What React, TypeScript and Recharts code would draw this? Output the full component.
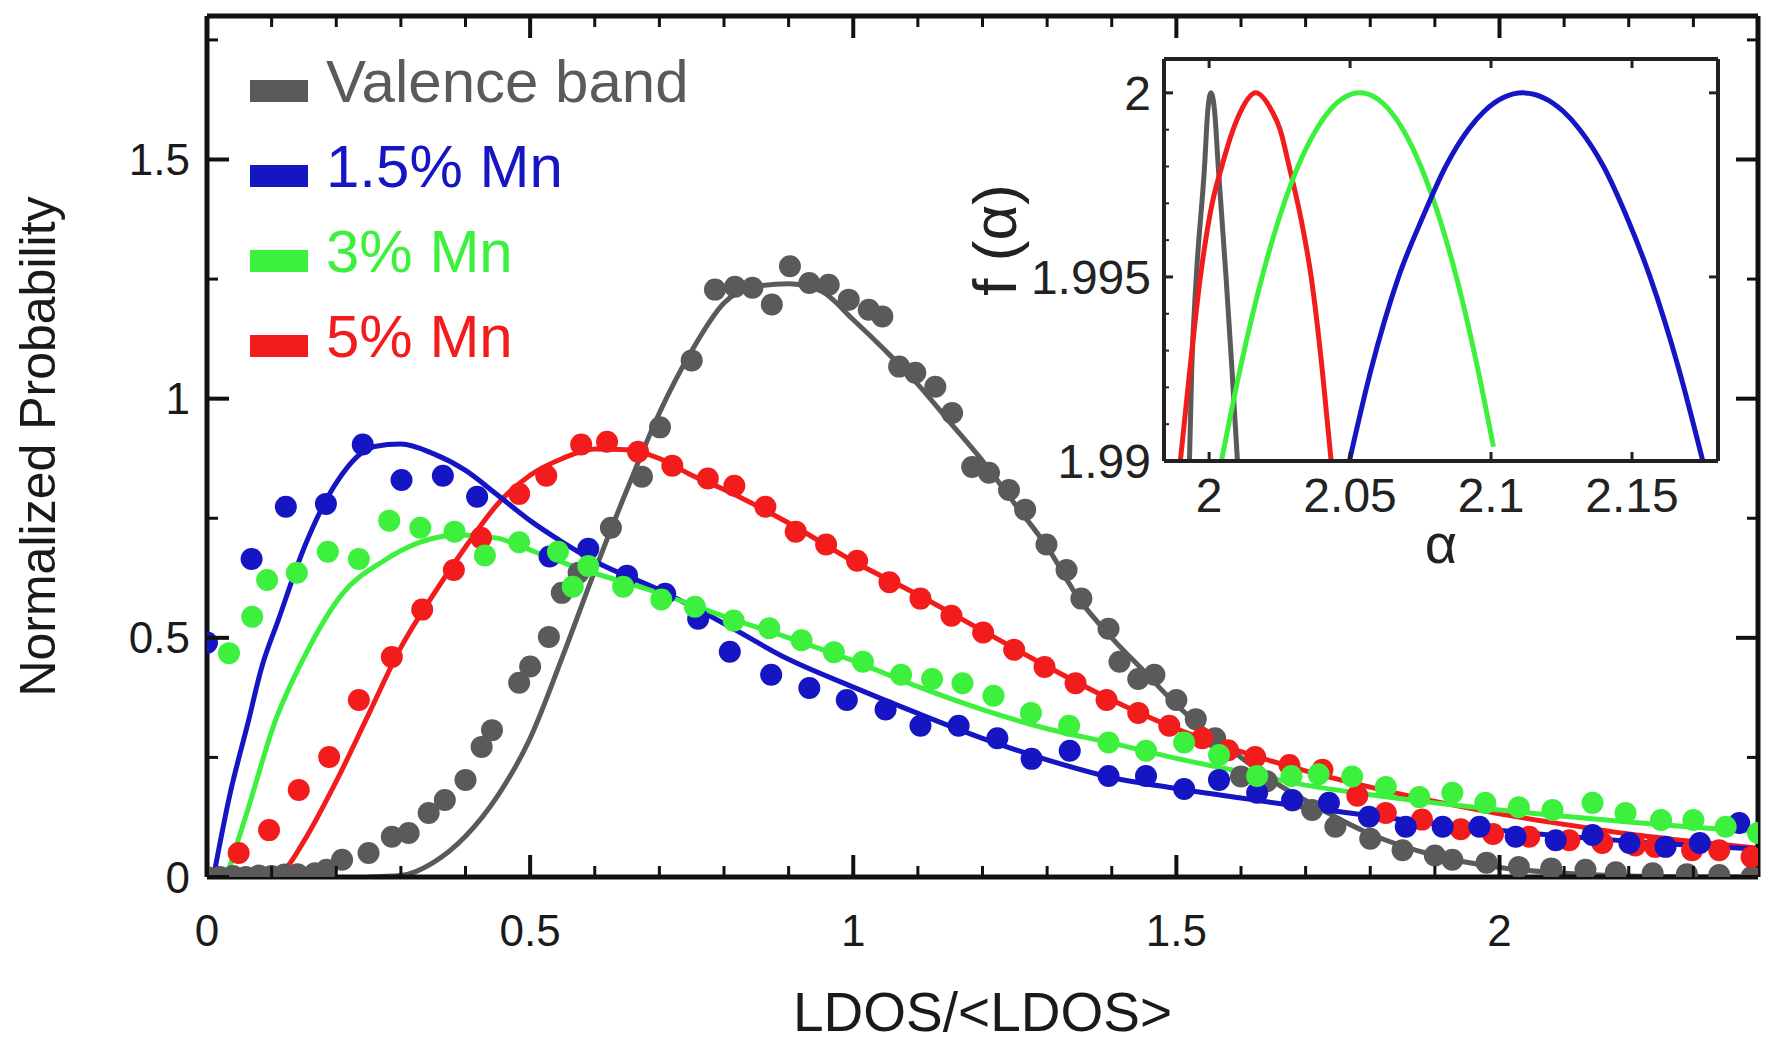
import { ComposedChart, LineChart, Line, Scatter, XAxis, YAxis, Label } from "recharts";

const FONT = "'Liberation Sans', Arial, Helvetica, sans-serif";

const GRAY = "#5a5a5a";
const BLUE = "#1515c4";
const GREEN = "#3ef03e";
const RED = "#f31c1c";
const AXIS = "#111";
const INK = "#1a1a1a";

// main plot ticks
const xMajorTicks = [0, 0.5, 1, 1.5, 2];
const xMinorTicks = [0.1, 0.2, 0.3, 0.4, 0.6, 0.7, 0.8, 0.9, 1.1, 1.2, 1.3, 1.4, 1.6, 1.7, 1.8, 1.9, 2.1, 2.2, 2.3];
const yMajorTicks = [0, 0.5, 1, 1.5];
const yMinorTicks = [0.25, 0.75, 1.25, 1.75];

// inset ticks
const alphaTicks = [2, 2.05, 2.1, 2.15];
const fTicks = [1.99, 1.995, 2];
const fMinorTicks = [1.991, 1.992, 1.993, 1.994, 1.996, 1.997, 1.998, 1.999];

// Valence band: histogram points and fit
const valenceDots = [
  [0, 0], [0.02, 0], [0.04, 0.002], [0.06, 0], [0.08, 0.003], [0.1, 0.002], [0.12, 0.005], [0.14, 0.006],
  [0.167, 0.008], [0.185, 0.015], [0.209, 0.036], [0.25, 0.05], [0.286, 0.084], [0.312, 0.092], [0.343, 0.134],
  [0.368, 0.161], [0.4, 0.203], [0.425, 0.272], [0.441, 0.307], [0.483, 0.406], [0.5, 0.44], [0.529, 0.502],
  [0.549, 0.594], [0.575, 0.636], [0.625, 0.73], [0.673, 0.837], [0.701, 0.94], [0.75, 1.08], [0.786, 1.228],
  [0.817, 1.234], [0.844, 1.232], [0.874, 1.197], [0.902, 1.277], [0.932, 1.242], [0.962, 1.238], [0.993, 1.207],
  [1.024, 1.186], [1.045, 1.172], [1.071, 1.067], [1.096, 1.054], [1.127, 1.025], [1.153, 0.97], [1.184, 0.857],
  [1.21, 0.845], [1.241, 0.809], [1.266, 0.768], [1.299, 0.695], [1.33, 0.642], [1.353, 0.582], [1.395, 0.519],
  [1.412, 0.45], [1.441, 0.414], [1.466, 0.423], [1.5, 0.37], [1.53, 0.33], [1.56, 0.29], [1.6, 0.21], [1.64, 0.2],
  [1.68, 0.16], [1.71, 0.14], [1.746, 0.105], [1.8, 0.08], [1.85, 0.056], [1.9, 0.045], [1.927, 0.036], [1.98, 0.03],
  [2.03, 0.021], [2.08, 0.018], [2.133, 0.015], [2.18, 0.01], [2.237, 0.008], [2.29, 0.006], [2.34, 0.004], [2.39, 0],
];
const valenceFit = [
  [0.25, 0], [0.3, 0.003], [0.35, 0.03], [0.4, 0.085], [0.45, 0.17], [0.5, 0.29], [0.55, 0.46], [0.6, 0.64],
  [0.65, 0.81], [0.7, 0.97], [0.75, 1.1], [0.8, 1.2], [0.85, 1.235], [0.9, 1.24], [0.95, 1.225], [1.0, 1.165],
  [1.05, 1.1], [1.1, 1.03], [1.15, 0.95], [1.2, 0.87], [1.25, 0.78], [1.3, 0.69], [1.35, 0.58], [1.4, 0.5],
  [1.45, 0.43], [1.5, 0.36], [1.55, 0.3], [1.6, 0.25], [1.65, 0.2], [1.7, 0.16], [1.8, 0.09], [1.9, 0.045],
  [2.0, 0.02], [2.1, 0.008], [2.2, 0.002], [2.3, 0], [2.4, 0],
];

// 1.5% Mn
const mn15Dots = [
  [0, 0.49], [0.069, 0.665], [0.122, 0.774], [0.184, 0.78], [0.241, 0.904], [0.301, 0.83], [0.365, 0.839],
  [0.418, 0.795], [0.53, 0.67], [0.59, 0.686], [0.65, 0.63], [0.709, 0.592], [0.76, 0.54], [0.809, 0.471],
  [0.873, 0.423], [0.932, 0.395], [0.99, 0.37], [1.05, 0.35], [1.104, 0.316], [1.163, 0.316], [1.223, 0.29],
  [1.276, 0.247], [1.335, 0.264], [1.395, 0.211], [1.453, 0.211], [1.512, 0.184], [1.566, 0.203], [1.625, 0.176],
  [1.679, 0.161], [1.736, 0.155], [1.798, 0.126], [1.855, 0.105], [1.912, 0.105], [1.969, 0.105], [2.025, 0.084],
  [2.087, 0.077], [2.144, 0.088], [2.201, 0.071], [2.257, 0.063], [2.31, 0.071], [2.371, 0.113],
];
const mn15Fit = [
  [0.01, 0], [0.035, 0.17], [0.063, 0.32], [0.085, 0.44], [0.11, 0.536], [0.152, 0.694], [0.2, 0.824],
  [0.259, 0.9], [0.3, 0.905], [0.35, 0.885], [0.4, 0.85], [0.45, 0.798], [0.5, 0.745], [0.55, 0.7], [0.6, 0.66],
  [0.7, 0.6], [0.8, 0.53], [0.9, 0.455], [1.0, 0.397], [1.1, 0.342], [1.2, 0.29], [1.3, 0.245], [1.4, 0.208],
  [1.5, 0.185], [1.6, 0.165], [1.7, 0.146], [1.8, 0.128], [1.9, 0.112], [2.0, 0.098], [2.1, 0.085], [2.2, 0.075],
  [2.3, 0.066], [2.4, 0.058],
];

// 3% Mn
const mn3Dots = [
  [0.034, 0.468], [0.07, 0.544], [0.093, 0.621], [0.139, 0.636], [0.187, 0.68], [0.235, 0.665], [0.282, 0.745],
  [0.33, 0.73], [0.383, 0.722], [0.43, 0.672], [0.483, 0.7], [0.543, 0.68], [0.566, 0.607], [0.59, 0.65],
  [0.644, 0.607], [0.703, 0.58], [0.755, 0.565], [0.815, 0.536], [0.87, 0.52], [0.92, 0.495], [0.97, 0.47],
  [1.015, 0.45], [1.074, 0.423], [1.122, 0.414], [1.169, 0.405], [1.217, 0.379], [1.275, 0.343], [1.334, 0.316],
  [1.395, 0.281], [1.453, 0.264], [1.512, 0.281], [1.566, 0.255], [1.625, 0.211], [1.678, 0.211], [1.72, 0.215],
  [1.772, 0.21], [1.824, 0.188], [1.876, 0.167], [1.927, 0.176], [1.978, 0.155], [2.03, 0.146], [2.082, 0.14],
  [2.144, 0.155], [2.195, 0.134], [2.25, 0.119], [2.3, 0.119], [2.35, 0.105], [2.4, 0.092],
];
const mn3Fit = [
  [0.03, 0], [0.063, 0.14], [0.104, 0.32], [0.152, 0.464], [0.21, 0.593], [0.27, 0.658], [0.33, 0.7],
  [0.389, 0.715], [0.447, 0.709], [0.507, 0.68], [0.566, 0.65], [0.685, 0.6], [0.8, 0.545], [0.9, 0.5],
  [1.0, 0.452], [1.1, 0.398], [1.2, 0.35], [1.3, 0.31], [1.4, 0.28], [1.5, 0.248], [1.6, 0.22], [1.7, 0.192],
  [1.8, 0.172], [1.9, 0.155], [2.0, 0.14], [2.1, 0.127], [2.2, 0.115], [2.3, 0.104], [2.4, 0.095],
];

// 5% Mn
const mn5Dots = [
  [0.049, 0.05], [0.096, 0.098], [0.142, 0.182], [0.189, 0.251], [0.235, 0.37], [0.286, 0.46], [0.333, 0.559],
  [0.382, 0.642], [0.424, 0.709], [0.483, 0.801], [0.525, 0.839], [0.579, 0.904], [0.619, 0.91], [0.667, 0.889],
  [0.72, 0.86], [0.775, 0.833], [0.816, 0.818], [0.864, 0.774], [0.911, 0.722], [0.958, 0.695], [1.006, 0.661],
  [1.056, 0.616], [1.104, 0.582], [1.152, 0.546], [1.201, 0.511], [1.249, 0.475], [1.296, 0.439], [1.344, 0.405],
  [1.392, 0.37], [1.441, 0.343], [1.489, 0.316], [1.54, 0.29], [1.58, 0.265], [1.622, 0.251], [1.675, 0.234],
  [1.726, 0.224], [1.78, 0.17], [1.824, 0.134], [1.88, 0.12], [1.94, 0.1], [1.99, 0.09], [2.046, 0.084],
  [2.108, 0.077], [2.159, 0.071], [2.21, 0.066], [2.241, 0.063], [2.298, 0.056], [2.34, 0.056], [2.39, 0.042],
];
const mn5Fit = [
  [0.1, 0], [0.12, 0.015], [0.15, 0.075], [0.2, 0.2], [0.25, 0.34], [0.3, 0.48], [0.35, 0.59], [0.4, 0.69],
  [0.45, 0.78], [0.5, 0.84], [0.55, 0.875], [0.6, 0.895], [0.65, 0.893], [0.7, 0.875], [0.75, 0.84], [0.8, 0.81],
  [0.9, 0.74], [1.0, 0.66], [1.1, 0.59], [1.2, 0.515], [1.3, 0.44], [1.4, 0.37], [1.5, 0.31], [1.6, 0.262],
  [1.7, 0.222], [1.8, 0.188], [1.9, 0.158], [2.0, 0.132], [2.1, 0.11], [2.2, 0.09], [2.3, 0.074], [2.4, 0.06],
];

// inset f(alpha) spectra, [alpha, f]
const valenceSpectrum = [
  [1.99303, 1.99], [1.99384, 1.9925], [1.99546, 1.995], [1.99838, 1.998], [1.99951, 1.9995], [2.00065, 2.0],
  [2.00195, 1.9995], [2.00324, 1.998], [2.006, 1.995], [2.0081, 1.9925], [2.01005, 1.99],
];
const mn5Spectrum = [
  [1.98979, 1.99], [1.9932, 1.9925], [1.9969, 1.995], [2.0011, 1.997], [2.0045, 1.998], [2.0085, 1.999],
  [2.0112, 1.9995], [2.01654, 2.0], [2.0223, 1.9995], [2.0252, 1.999], [2.0284, 1.998], [2.0328, 1.9965],
  [2.0362, 1.995], [2.0401, 1.9925], [2.04329, 1.99],
];
const mn3Spectrum = [
  [2.00438, 1.99], [2.011, 1.9925], [2.0188, 1.995], [2.0266, 1.997], [2.0315, 1.998], [2.038, 1.999],
  [2.0425, 1.9995], [2.0535, 2.0], [2.0643, 1.9995], [2.0688, 1.999], [2.0751, 1.998], [2.0821, 1.9965],
  [2.0877, 1.995], [2.0953, 1.9925], [2.10084, 1.99039],
];
const mn15Spectrum = [
  [2.04977, 1.99], [2.0575, 1.9925], [2.0672, 1.995], [2.0762, 1.9967], [2.0839, 1.998], [2.0919, 1.999],
  [2.0976, 1.9995], [2.11139, 2.0], [2.1256, 1.9995], [2.1315, 1.999], [2.1399, 1.998], [2.1483, 1.9966],
  [2.1564, 1.995], [2.1666, 1.9925], [2.1751, 1.99],
];

const toPts = (arr: number[][]) => arr.map(([x, y]) => ({ x, y }));

const series = [
  { name: "Valence band", color: GRAY, dots: valenceDots, fit: valenceFit, spectrum: valenceSpectrum },
  { name: "1.5% Mn", color: BLUE, dots: mn15Dots, fit: mn15Fit, spectrum: mn15Spectrum },
  { name: "3% Mn", color: GREEN, dots: mn3Dots, fit: mn3Fit, spectrum: mn3Spectrum },
  { name: "5% Mn", color: RED, dots: mn5Dots, fit: mn5Fit, spectrum: mn5Spectrum },
];
// drawing order in the picture: gray at the back, green on top
const drawOrder = [0, 3, 1, 2];
const insetOrder = [0, 3, 2, 1];

// plot boxes (set through the chart margins below)
const MAIN = { width: 1767, height: 1046, top: 16, left: 207, right: 1758, bottom: 877 };
const INSET = { left: 960, top: 30, width: 800, height: 560, pTop: 29, pLeft: 204, pRight: 758, pBottom: 431 };

const dotShape = (color: string) => (props: any) => (
  <circle cx={props.cx} cy={props.cy} r={11} fill={color} />
);

// ticks point inward and repeat on the opposite side of the frame
const MainXTick = (props: any) => {
  const { x, y, payload } = props;
  const major = xMajorTicks.includes(payload.value);
  const len = major ? 22 : 11;
  const sw = major ? 4 : 3;
  return (
    <g>
      <line x1={x} x2={x} y1={y} y2={y - len} stroke={AXIS} strokeWidth={sw} />
      <line x1={x} x2={x} y1={MAIN.top} y2={MAIN.top + len} stroke={AXIS} strokeWidth={sw} />
      {major && (
        <text x={x} y={y + 38} dy="0.71em" textAnchor="middle" fontSize={44} fill={INK} fontFamily={FONT}>
          {payload.value}
        </text>
      )}
    </g>
  );
};

const MainYTick = (props: any) => {
  const { x, y, payload } = props;
  const major = yMajorTicks.includes(payload.value);
  const len = major ? 22 : 11;
  const sw = major ? 4 : 3;
  return (
    <g>
      <line x1={x} x2={x + len} y1={y} y2={y} stroke={AXIS} strokeWidth={sw} />
      <line x1={MAIN.right} x2={MAIN.right - len} y1={y} y2={y} stroke={AXIS} strokeWidth={sw} />
      {major && (
        <text x={x - 17} y={y} dy="0.355em" textAnchor="end" fontSize={44} fill={INK} fontFamily={FONT}>
          {payload.value}
        </text>
      )}
    </g>
  );
};

const InsetXTick = (props: any) => {
  const { x, y, payload } = props;
  return (
    <g>
      <line x1={x} x2={x} y1={y} y2={y - 9} stroke="#222" strokeWidth={3} />
      <line x1={x} x2={x} y1={INSET.pTop} y2={INSET.pTop + 9} stroke="#222" strokeWidth={3} />
      <text x={x} y={y + 17} dy="0.71em" textAnchor="middle" fontSize={48} fill="#222" fontFamily={FONT}>
        {payload.value}
      </text>
    </g>
  );
};

const InsetYTick = (props: any) => {
  const { x, y, payload } = props;
  const major = fTicks.includes(payload.value);
  return (
    <g>
      <line x1={x} x2={x + (major ? 9 : 5)} y1={y} y2={y} stroke="#222" strokeWidth={major ? 3 : 2} />
      {major && <line x1={INSET.pRight} x2={INSET.pRight - 9} y1={y} y2={y} stroke="#222" strokeWidth={3} />}
      {major && (
        <text x={x - 13} y={y} dy="0.355em" textAnchor="end" fontSize={48} fill="#222" fontFamily={FONT}>
          {payload.value}
        </text>
      )}
    </g>
  );
};

const InsetYLabel = (props: any) => {
  const vb = props.viewBox || {};
  const cx = vb.x - 168;
  const cy = vb.y + vb.height * 0.45;
  return (
    <text
      x={cx}
      y={cy}
      transform={`rotate(-90 ${cx} ${cy})`}
      textAnchor="middle"
      dominantBaseline="central"
      fontSize={62}
      fontFamily={FONT}
      fill="#222"
    >
      f (α)
    </text>
  );
};

const Legend = () => (
  <div style={{ position: "absolute", left: 250, top: 39, fontFamily: FONT }}>
    {series.map((s) => (
      <div key={s.name} style={{ position: "relative", height: 85, width: 460 }}>
        <div style={{ position: "absolute", left: 0, top: 41, width: 58, height: 22, background: s.color }} />
        <span style={{ position: "absolute", left: 76, top: 0, lineHeight: "85px", fontSize: 60, color: s.color, whiteSpace: "nowrap" }}>
          {s.name}
        </span>
      </div>
    ))}
  </div>
);

const frame = { stroke: AXIS, strokeWidth: 5 };
const insetFrame = { stroke: "#222", strokeWidth: 4 };

const Inset = () => (
  <div style={{ position: "absolute", left: INSET.left, top: INSET.top }}>
    <LineChart
      width={INSET.width}
      height={INSET.height}
      margin={{
        top: INSET.pTop - 1,
        left: INSET.pLeft - 1,
        right: INSET.width - INSET.pRight - 1,
        bottom: INSET.height - INSET.pBottom - 1,
      }}
    >
      <XAxis
        xAxisId="ib"
        type="number"
        dataKey="x"
        domain={[1.984, 2.1805]}
        allowDataOverflow
        ticks={alphaTicks}
        interval={0}
        height={1}
        tickSize={0}
        tickMargin={0}
        axisLine={insetFrame}
        tickLine={false}
        tick={InsetXTick}
      >
        <Label value="α" position="bottom" offset={61} fontSize={56} fill="#222" fontFamily={FONT} />
      </XAxis>
      <XAxis xAxisId="it" orientation="top" type="number" domain={[1.984, 2.1805]} height={1} tick={false} tickLine={false} axisLine={insetFrame} />
      <YAxis
        yAxisId="il"
        type="number"
        dataKey="y"
        domain={[1.99, 2.00092]}
        allowDataOverflow
        ticks={[...fTicks, ...fMinorTicks].sort()}
        interval={0}
        width={1}
        tickSize={0}
        tickMargin={0}
        axisLine={insetFrame}
        tickLine={false}
        tick={InsetYTick}
      >
        <Label content={InsetYLabel} />
      </YAxis>
      <YAxis yAxisId="ir" orientation="right" type="number" domain={[1.99, 2.00092]} width={1} tick={false} tickLine={false} axisLine={insetFrame} />
      {insetOrder.map((i) => (
        <Line
          key={series[i].name}
          xAxisId="ib"
          yAxisId="il"
          data={toPts(series[i].spectrum)}
          dataKey="y"
          type="monotone"
          stroke={series[i].color}
          strokeWidth={5}
          dot={false}
          isAnimationActive={false}
        />
      ))}
    </LineChart>
  </div>
);

export default function App() {
  return (
    <div style={{ position: "absolute", left: 0, top: 0, width: MAIN.width, height: MAIN.height, background: "#fff", overflow: "hidden" }}>
      <ComposedChart
        width={MAIN.width}
        height={MAIN.height}
        margin={{
          top: MAIN.top - 1,
          left: MAIN.left - 1,
          right: MAIN.width - MAIN.right - 1,
          bottom: MAIN.height - MAIN.bottom - 1,
        }}
      >
        <XAxis
          xAxisId="b"
          type="number"
          dataKey="x"
          domain={[0, 2.4]}
          allowDataOverflow
          ticks={[...xMajorTicks, ...xMinorTicks].sort((a, b) => a - b)}
          interval={0}
          height={1}
          tickSize={0}
          tickMargin={0}
          axisLine={frame}
          tickLine={false}
          tick={MainXTick}
        >
          <Label value="LDOS/<LDOS>" position="bottom" offset={114} fontSize={55} fill={INK} fontFamily={FONT} />
        </XAxis>
        <XAxis xAxisId="t" orientation="top" type="number" domain={[0, 2.4]} height={1} tick={false} tickLine={false} axisLine={frame} />
        <YAxis
          yAxisId="l"
          type="number"
          dataKey="y"
          domain={[0, 1.8]}
          allowDataOverflow
          ticks={[...yMajorTicks, ...yMinorTicks].sort((a, b) => a - b)}
          interval={0}
          width={1}
          tickSize={0}
          tickMargin={0}
          axisLine={frame}
          tickLine={false}
          tick={MainYTick}
        >
          <Label
            value="Normalized Probability"
            position="left"
            angle={-90}
            offset={169}
            textAnchor="middle"
            fontSize={50}
            fill={INK}
            fontFamily={FONT}
          />
        </YAxis>
        <YAxis yAxisId="r" orientation="right" type="number" domain={[0, 1.8]} width={1} tick={false} tickLine={false} axisLine={frame} />
        {drawOrder.map((i) => (
          <Scatter
            key={series[i].name + "-dots"}
            name={series[i].name}
            xAxisId="b"
            yAxisId="l"
            data={toPts(series[i].dots)}
            fill={series[i].color}
            shape={dotShape(series[i].color)}
            isAnimationActive={false}
          />
        ))}
        {drawOrder.map((i) => (
          <Line
            key={series[i].name + "-fit"}
            xAxisId="b"
            yAxisId="l"
            data={toPts(series[i].fit)}
            dataKey="y"
            type="monotone"
            stroke={series[i].color}
            strokeWidth={5}
            dot={false}
            activeDot={false}
            legendType="none"
            isAnimationActive={false}
          />
        ))}
      </ComposedChart>
      <Inset />
      <Legend />
    </div>
  );
}
